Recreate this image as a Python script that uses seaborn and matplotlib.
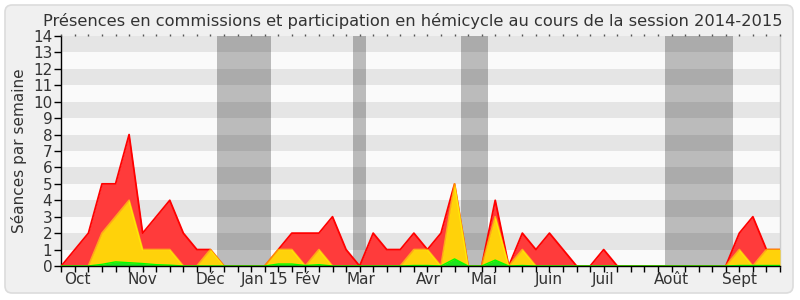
import numpy as np
import pandas as pd
import matplotlib
matplotlib.use("Agg")
import matplotlib.pyplot as plt
from matplotlib.patches import FancyBboxPatch
import seaborn as sns

# ---- data (one value per week of the 2014-2015 session) ----
weeks = list(range(54))
commission = [0, 1, 2, 5, 5, 8, 2, 3, 4, 2, 1, 1, 0, 0, 0, 0, 1, 2, 2, 2,
              3, 1, 0, 2, 1, 1, 2, 1, 2, 5, 0, 0, 4, 0, 2, 1, 2, 1, 0, 0,
              1, 0, 0, 0, 0, 0, 0, 0, 0, 0, 2, 3, 1, 1]
hemicycle = [0, 0, 0, 2, 3, 4, 1, 1, 1, 0, 0, 1, 0, 0, 0, 0, 1, 1, 0, 1,
             0, 0, 0, 0, 0, 0, 1, 1, 0, 5, 0, 0, 3, 0, 1, 0, 0, 0, 0, 0,
             0, 0, 0, 0, 0, 0, 0, 0, 0, 0, 1, 0, 1, 1]
interventions = [0, 0, 0, 0.1, 0.25, 0.2, 0.15, 0.08, 0.05, 0, 0, 0, 0, 0, 0, 0,
                 0.12, 0.12, 0.03, 0.08, 0, 0, 0, 0, 0, 0, 0.03, 0.03, 0, 0.43,
                 0, 0, 0.36, 0, 0.03, 0, 0, 0, 0, 0, 0, 0, 0, 0, 0, 0, 0, 0, 0,
                 0, 0.03, 0.03, 0.03, 0.03]
vacations = [(11.5, 15.5), (21.5, 22.5), (29.5, 31.5), (44.5, 49.5)]
month_labels = ["Oct", "Nov", "Déc", "Jan 15", "Fév", "Mar", "Avr", "Mai",
                "Juin", "Juil", "Août", "Sept"]
month_label_pos = [1.16, 5.99, 10.97, 15.03, 18.19, 22.10, 27.03, 31.17,
                   35.97, 39.95, 44.97, 50.03]
y_ticks = list(range(15))

title = "Présences en commissions et participation en hémicycle au cours de la session 2014-2015"
ylabel = "Séances par semaine"

df = pd.DataFrame({"week": weeks, "commission": commission,
                   "hemicycle": hemicycle, "interventions": interventions})

sns.set_style("white")
plt.rcParams["font.family"] = ["DejaVu Sans"]

fig = plt.figure(figsize=(8, 3), dpi=100)
fig.patch.set_facecolor("white")
frame = FancyBboxPatch((0.05, 0.07), 7.88, 2.88,
                       boxstyle="round,pad=0,rounding_size=0.07",
                       transform=fig.dpi_scale_trans,
                       facecolor="#f0f0f0", edgecolor="#dcdcdc", linewidth=1.2,
                       zorder=-10)
fig.patches.append(frame)

ax = fig.add_axes([61.3 / 800, 34 / 300, (780 - 61.3) / 800, 230 / 300])
ax.set_zorder(1)
ax.set_facecolor("#fafafa")
for lo in range(1, 14, 2):
    ax.axhspan(lo, lo + 1, color="#e5e5e5", lw=0, zorder=0)
for a, b in vacations:
    ax.axvspan(a, b, color="black", alpha=0.25, lw=0, zorder=1)

ax.fill_between(df["week"], 0, df["commission"], color="#ff3b3b", lw=0, zorder=2)
sns.lineplot(data=df, x="week", y="commission", color="#ff0000", lw=1.3,
             ax=ax, zorder=3)
ax.fill_between(df["week"], 0, df["hemicycle"], color="#ffd20a", lw=0, zorder=4)
sns.lineplot(data=df, x="week", y="hemicycle", color="#ffff00", alpha=0.55,
             lw=1.3, ax=ax, zorder=5)
ax.fill_between(df["week"], 0, df["interventions"], color="#1fe41f", lw=0, zorder=6)
sns.lineplot(data=df, x="week", y="interventions", color="#00ff00", lw=1.0,
             ax=ax, zorder=7)

ax.set_xlim(0, 53)
ax.set_ylim(0, 14)
ax.set_xlabel("")
ax.set_ylabel(ylabel, fontsize=11, color="#333333", labelpad=4)

ax.set_yticks(y_ticks)
ax.set_yticklabels([str(v) for v in y_ticks], fontsize=11, color="#333333")
ax.set_xticks(weeks)
ax.set_xticklabels([])
ax.set_xticks(month_label_pos, minor=True)
ax.set_xticklabels(month_labels, minor=True, fontsize=11, color="#333333")
ax.tick_params(axis="y", which="major", left=True, length=5, width=1,
               color="#000000", pad=1.5)
ax.tick_params(axis="x", which="major", bottom=True, length=4, width=1,
               color="#000000")
ax.tick_params(axis="x", which="minor", bottom=True, length=0, pad=4)

ax.spines["top"].set_visible(False)
ax.spines["right"].set_color("#cccccc")
ax.spines["right"].set_linewidth(1)
ax.spines["left"].set_color("#000000")
ax.spines["bottom"].set_color("#000000")
ax.spines["left"].set_linewidth(1)
ax.spines["bottom"].set_linewidth(1)
ax.spines["bottom"].set_zorder(8)

ax_top = ax.twiny()
ax_top.set_xlim(ax.get_xlim())
ax_top.set_xticks(weeks)
ax_top.set_xticklabels([])
ax_top.tick_params(axis="x", top=True, length=1.5, width=1, color="#555555")
for s in ax_top.spines.values():
    s.set_visible(False)

fig.text(0.516, 0.912, title, ha="center", va="baseline", fontsize=11.7,
         color="#333333")

fig.savefig("out.png", dpi=100)
